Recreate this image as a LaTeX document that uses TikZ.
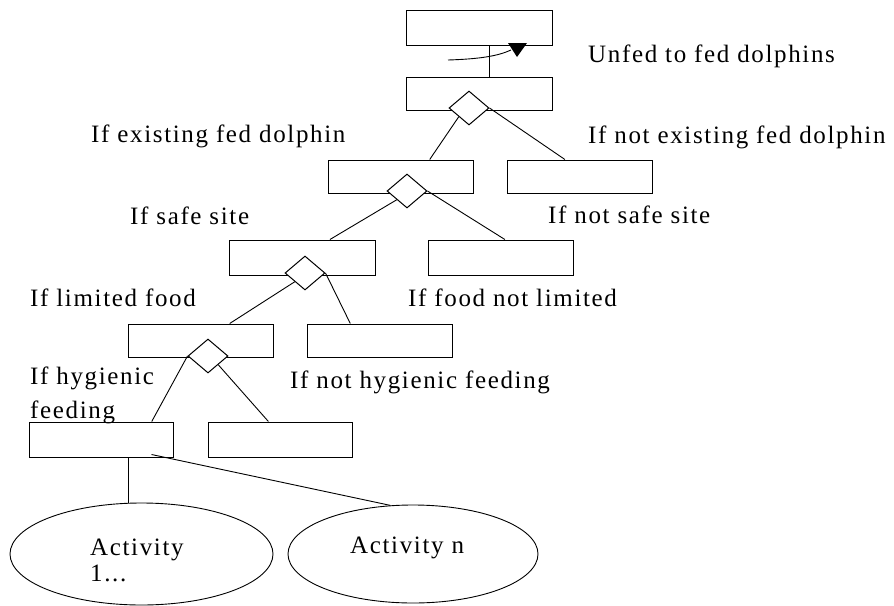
\documentclass[tikz,border=0pt]{standalone}
\usepackage{fontspec}
\setmainfont{Liberation Serif}[LetterSpace=6.6]
\usetikzlibrary{shapes.geometric,calc}
\begin{document}
\begin{tikzpicture}[x=1pt,y=-1pt,
  every node/.style={font=\fontsize{25}{30}\selectfont},
  box/.style={draw,line width=1pt,minimum width=145pt,minimum height=34pt,inner sep=0pt},
  choice/.style={draw,line width=1pt,diamond,fill=white,minimum width=40pt,minimum height=34pt,inner sep=0pt},
  activity/.style={draw,line width=0.9pt,ellipse,inner sep=0pt},
  label/.style={anchor=base west,inner sep=0pt},
  link/.style={line width=0.9pt}]
\useasboundingbox (0,0) rectangle (894,605);

% state boxes
\node[box,minimum width=146pt,minimum height=35pt] (A) at (479,27.5) {};
\node[box,minimum width=146pt,minimum height=33pt] (B) at (479,93.5) {};
\node[box,minimum height=33pt] (C) at (400.5,176.5) {};
\node[box,minimum height=33pt] (D) at (579.5,176.5) {};
\node[box,minimum width=146pt,minimum height=35pt] (E) at (302,257.5) {};
\node[box,minimum height=35pt] (F) at (500.5,257.5) {};
\node[box,minimum height=33pt] (G) at (200.5,340.5) {};
\node[box,minimum height=33pt] (H) at (379.5,340.5) {};
\node[box,minimum width=144pt,minimum height=35pt] (I) at (101,439.5) {};
\node[box,minimum width=144pt,minimum height=35pt] (J) at (280,439.5) {};

% decision diamonds on the lower edges
\node[choice] (dB) at (469,108) {};
\node[choice] (dC) at (407,191) {};
\node[choice] (dE) at (305,273) {};
\node[choice] (dG) at (208,356) {};

% activities
\node[activity,minimum width=263pt,minimum height=102pt] (act1) at (141.5,554) {};
\node[activity,minimum width=250pt,minimum height=98pt] (actn) at (413,554) {};

% transition between the two top boxes
\draw[link] (A.south -| 489,0) -- (B.north -| 489,0);
\coordinate (tstart) at (448,60);
\coordinate (ttip) at (517,57);
\draw[link] (tstart) .. controls (480,59) and (498,56) .. (511,50);
\fill ($(ttip)+(-9,-14)$) -- ($(ttip)+(10,-14)$) -- (ttip) -- cycle;

% branches
\draw[link] (dB.south west) -- ($(C.north west)!0.70!(C.north east)$);
\draw[link] (dB.east) -- ($(D.north west)!0.40!(D.north east)$);
\draw[link] (dC.south west) -- ($(E.north west)!0.69!(E.north east)$);
\draw[link] (dC.east) -- ($(F.north west)!0.53!(F.north east)$);
\draw[link] (dE.south west) -- ($(G.north west)!0.70!(G.north east)$);
\draw[link] (dE.east) -- ($(H.north west)!0.30!(H.north east)$);
\draw[link] (dG.west) -- ($(I.north west)!0.85!(I.north east)$);
\draw[link] (dG.south east) -- ($(J.north west)!0.42!(J.north east)$);

% links to the activities
\draw[link] (act1.104 |- I.south) -- (act1.104);
\coordinate (istart) at ($(I.south west)+(123,-3)$);
\draw[link] (istart) -- (actn.115);

% labels
\node[label] (l0) at (588,62) {Unfed to fed dolphins};
\node[label] (l1) at (91,142) {If existing fed dolphin};
\node[label] (l2) at (588,143) {If not existing fed dolphin};
\node[label] (l3) at (130,224) {If safe site};
\node[label] (l4) at (548,223) {If not safe site};
\node[label] (l5) at (30,306) {If limited food};
\node[label] (l6) at (408,306) {If food not limited};
\node[label] (l7a) at (30,384) {If hygienic};
\node[label] (l7b) at (30,418) {feeding};
\node[label] (l8) at (290,388) {If not hygienic feeding};
\node[label] (a1a) at (90,555) {Activity};
\node[label] (a1b) at (90,581) {1...};
\node[label] (an) at (350,553) {Activity n};
\end{tikzpicture}
\end{document}
